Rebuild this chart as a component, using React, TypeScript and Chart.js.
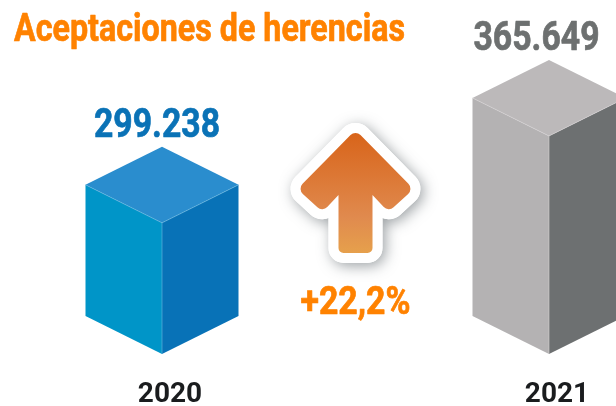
import React, { useEffect, useRef } from "react";
import { Chart, registerables } from "chart.js";

Chart.register(...registerables);

const years = ["2020", "2021"];
const values = [299238, 365649];
const valueLabels = ["299.238", "365.649"];
const titleText = "Aceptaciones de herencias";
const changeLabel = "+22,2%";
const orange = "#ff8200";
const faces = [
  { top: "#2a8dce", left: "#0095c8", right: "#0872b7", seam: "#6cbbe0", label: "#0a72b6" },
  { top: "#bcb9ba", left: "#b4b2b3", right: "#6d7071", seam: "#d6d4d5", label: "#6d7070" },
];
const labelBox = [
  { dx: -5, width: 126 },
  { dx: -12.5, width: 126 },
];

function poly(ctx: CanvasRenderingContext2D, pts: number[][], fill: string) {
  ctx.beginPath();
  pts.forEach((p, i) => (i ? ctx.lineTo(p[0], p[1]) : ctx.moveTo(p[0], p[1])));
  ctx.closePath();
  ctx.fillStyle = fill;
  ctx.fill();
}

function seam(ctx: CanvasRenderingContext2D, pts: number[][], color: string) {
  ctx.beginPath();
  pts.forEach((p, i) => (i ? ctx.lineTo(p[0], p[1]) : ctx.moveTo(p[0], p[1])));
  ctx.strokeStyle = color;
  ctx.lineWidth = 0.6;
  ctx.stroke();
}

function boldText(
  ctx: CanvasRenderingContext2D,
  text: string,
  x: number,
  y: number,
  maxWidth: number,
  font: string,
  color: string,
  align: CanvasTextAlign
) {
  ctx.save();
  ctx.font = font;
  ctx.fillStyle = color;
  ctx.strokeStyle = color;
  ctx.lineWidth = 0.7;
  ctx.lineJoin = "round";
  ctx.textAlign = align;
  ctx.textBaseline = "alphabetic";
  ctx.fillText(text, x, y, maxWidth);
  ctx.strokeText(text, x, y, maxWidth);
  ctx.restore();
}

function arrowPath(ctx: CanvasRenderingContext2D, cx: number, oy: number) {
  // outline relative to the midpoint between the two bars
  const pts = [
    [0, -3],
    [58, 56],
    [33, 79],
    [17, 62],
    [17, 120],
    [-17, 120],
    [-17, 62],
    [-33, 79],
    [-58, 56],
  ].map((p) => [cx + p[0], oy + p[1]]);
  const radii = [7, 7, 7, 0, 5, 5, 0, 7, 7];
  const n = pts.length;
  ctx.beginPath();
  const s = [(pts[n - 1][0] + pts[0][0]) / 2, (pts[n - 1][1] + pts[0][1]) / 2];
  ctx.moveTo(s[0], s[1]);
  for (let i = 0; i < n; i++) {
    const a = pts[i];
    const b = pts[(i + 1) % n];
    ctx.arcTo(a[0], a[1], b[0], b[1], radii[i]);
  }
  ctx.closePath();
}

const cubePlugin = {
  id: "cubes",
  afterDatasetsDraw(chart: any) {
    const ctx: CanvasRenderingContext2D = chart.ctx;
    const bars = chart.getDatasetMeta(0).data;
    const base = chart.scales.y.bottom;
    const hw = 76.5;
    const dy = 38;
    bars.forEach((bar: any, i: number) => {
      const { x, y } = bar;
      const f = faces[i];
      ctx.save();
      poly(ctx, [[x - hw, y - dy], [x, y], [x, base], [x - hw, base - dy]], f.left);
      poly(ctx, [[x + hw, y - dy], [x, y], [x, base], [x + hw, base - dy]], f.right);
      poly(ctx, [[x, y - 2 * dy], [x + hw, y - dy], [x, y], [x - hw, y - dy]], f.top);
      seam(ctx, [[x - hw, y - dy], [x, y], [x + hw, y - dy]], f.seam);
      seam(ctx, [[x, y], [x, base]], f.seam);
      ctx.restore();

      boldText(ctx, valueLabels[i], x + labelBox[i].dx, y - 2 * dy - 10, labelBox[i].width, "700 40px Roboto", f.label, "center");
    });

    // title
    boldText(ctx, titleText, 14, 41, 391, "700 38px Roboto", orange, "left");

    // arrow between the bars
    const cx = (bars[0].x + bars[1].x) / 2;
    const oy = 133;
    ctx.save();
    ctx.lineJoin = "round";
    ctx.shadowColor = "rgba(60,70,75,0.5)";
    ctx.shadowBlur = 14;
    ctx.shadowOffsetX = 3;
    ctx.shadowOffsetY = 3;
    arrowPath(ctx, cx, oy);
    ctx.lineWidth = 20;
    ctx.strokeStyle = "#ffffff";
    ctx.stroke();
    ctx.restore();
    ctx.save();
    arrowPath(ctx, cx, oy);
    ctx.lineJoin = "round";
    ctx.lineWidth = 20;
    ctx.strokeStyle = "#ffffff";
    ctx.stroke();
    const g = ctx.createLinearGradient(0, oy, 0, oy + 120);
    g.addColorStop(0, "#d8641a");
    g.addColorStop(0.7, "#e08a4e");
    g.addColorStop(1, "#e6a04c");
    ctx.fillStyle = g;
    ctx.fill();
    ctx.restore();

    boldText(ctx, changeLabel, cx, 314, 110, "700 38px Roboto", orange, "center");
  },
};

export default function App() {
  const ref = useRef<HTMLCanvasElement>(null);
  useEffect(() => {
    const chart = new Chart(ref.current!, {
      type: "bar",
      data: {
        labels: years,
        datasets: [
          {
            data: values,
            backgroundColor: "rgba(0,0,0,0)",
            barThickness: 153,
          },
        ],
      },
      options: {
        animation: false,
        responsive: false,
        layout: { padding: { left: 162, right: 67, top: 91, bottom: 0 } },
        plugins: { legend: { display: false }, tooltip: { enabled: false }, title: { display: false } },
        scales: {
          x: {
            offset: false,
            grid: { display: false },
            border: { display: false },
            afterFit: (s: any) => {
              s.height = 52;
            },
            ticks: {
              color: "#1a1c1e",
              font: { family: "Roboto", weight: "bold", size: 28 },
              padding: 16,
              labelOffset: 8,
              maxRotation: 0,
              autoSkip: false,
            },
          },
          y: { display: false, min: 199000, max: 400000 },
        },
      },
      plugins: [cubePlugin],
    } as any);
    return () => chart.destroy();
  }, []);
  return (
    <div style={{ position: "fixed", left: 0, top: 0, width: 616, height: 406, background: "#fff", overflow: "hidden" }}>
      <canvas ref={ref} width={616} height={406} style={{ display: "block" }} />
    </div>
  );
}
